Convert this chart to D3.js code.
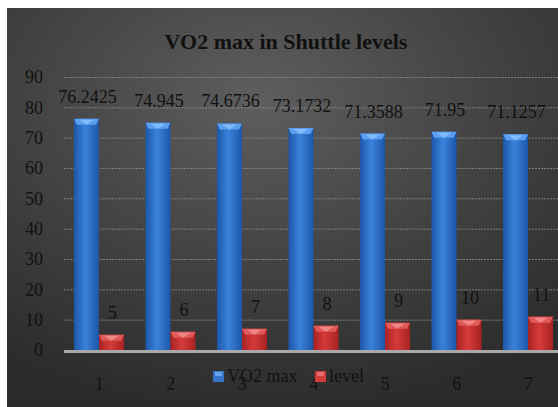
<!DOCTYPE html>
<html>
<head>
<meta charset="utf-8">
<script src="https://cdn.jsdelivr.net/npm/d3@7"></script>
<style>
  html, body { margin: 0; padding: 0; background: #fff; }
  svg { display: block; }
</style>
</head>
<body>
<svg id="chart" width="558" height="407"></svg>
<script>
// Shuttle test results: VO2 max reached and shuttle level per test
const categories = ["1", "2", "3", "4", "5", "6", "7"];
const vo2max = [76.2425, 74.945, 74.6736, 73.1732, 71.3588, 71.95, 71.1257];
const level = [5, 6, 7, 8, 9, 10, 11];
const seriesNames = ["VO2 max", "level"];
const yTicks = [0, 10, 20, 30, 40, 50, 60, 70, 80, 90];

const svg = d3.select("#chart");
const font = "'Liberation Serif', 'Times New Roman', serif";
const textColor = "#111";

const defs = svg.append("defs");

// Dark chart background with a soft highlight near the top
const bg = defs.append("radialGradient").attr("id", "bg")
  .attr("cx", "42%").attr("cy", "22%").attr("r", "75%");
bg.append("stop").attr("offset", "0%").attr("stop-color", "#5e5e5e");
bg.append("stop").attr("offset", "55%").attr("stop-color", "#414141");
bg.append("stop").attr("offset", "100%").attr("stop-color", "#2b2b2b");

function barGradient(id, edge, mid) {
  const g = defs.append("linearGradient").attr("id", id)
    .attr("x1", "0%").attr("x2", "100%").attr("y1", "0%").attr("y2", "0%");
  g.append("stop").attr("offset", "0%").attr("stop-color", edge);
  g.append("stop").attr("offset", "45%").attr("stop-color", mid);
  g.append("stop").attr("offset", "100%").attr("stop-color", edge);
}
barGradient("blueBar", "#1d56a8", "#3b82dc");
barGradient("redBar", "#a82222", "#d53a3a");

const palette = {
  "VO2 max": { fill: "url(#blueBar)", bevel: "#5b9ff0", peak: "#8cc3ff", key: "#3574c9" },
  "level": { fill: "url(#redBar)", bevel: "#e05a5a", peak: "#f29090", key: "#d33a3a" }
};

// Chart frame
svg.append("rect").attr("x", 7).attr("y", 8).attr("width", 600).attr("height", 420)
  .attr("fill", "url(#bg)");

// Title
svg.append("text").attr("x", 286).attr("y", 49).attr("text-anchor", "middle")
  .attr("font-family", font).attr("font-weight", "bold").attr("font-size", 22)
  .attr("fill", textColor).text("VO2 max in Shuttle levels");

// Scales
const x = d3.scaleBand().domain(categories).range([63.5, 564]).padding(0);
const x1 = d3.scaleBand().domain(seriesNames).range([10.5, 60.5]).padding(0);
const y = d3.scaleLinear().domain([0, 90]).range([350, 77]);

// Gridlines
svg.append("g").selectAll("line").data(yTicks.filter(d => d > 0)).join("line")
  .attr("x1", 64).attr("x2", 564)
  .attr("y1", d => y(d) + 0.5).attr("y2", d => y(d) + 0.5)
  .attr("stroke", "#8c8c8c").attr("stroke-width", 1)
  .attr("stroke-dasharray", "2,1").attr("opacity", 0.8);

// Y axis labels
const yAxis = d3.axisLeft(y).tickValues(yTicks).tickSize(0).tickPadding(0);
const yg = svg.append("g").attr("transform", "translate(43,0)").call(yAxis);
yg.select(".domain").remove();
yg.selectAll("text").attr("font-family", font).attr("font-size", 18)
  .attr("fill", textColor);

// Bars
const rows = categories.map((c, i) => ({ cat: c, values: [
  { key: "VO2 max", value: vo2max[i] },
  { key: "level", value: level[i] }
]}));

const groups = svg.append("g").selectAll("g").data(rows).join("g")
  .attr("transform", d => `translate(${x(d.cat)},0)`);

const bars = groups.selectAll("g.bar").data(d => d.values).join("g").attr("class", "bar");

bars.append("rect")
  .attr("x", d => x1(d.key)).attr("width", x1.bandwidth())
  .attr("y", d => y(d.value)).attr("height", d => y(0) - y(d.value))
  .attr("fill", d => palette[d.key].fill);

// bevelled top of each bar
bars.append("polygon")
  .attr("points", d => {
    const bx = x1(d.key), w = x1.bandwidth(), t = y(d.value);
    return [[bx, t], [bx + w, t], [bx + w - 3, t + 6], [bx + 3, t + 6]].map(p => p.join(",")).join(" ");
  })
  .attr("fill", d => palette[d.key].bevel);
bars.append("polygon")
  .attr("points", d => {
    const bx = x1(d.key), w = x1.bandwidth(), t = y(d.value);
    return [[bx + 5, t + 1], [bx + w - 5, t + 1], [bx + w / 2, t + 6]].map(p => p.join(",")).join(" ");
  })
  .attr("fill", d => palette[d.key].peak).attr("opacity", 0.8);

// Value labels
bars.append("text")
  .attr("x", d => x1(d.key) + x1.bandwidth() / 2 + 1)
  .attr("y", d => y(d.value) - 16)
  .attr("text-anchor", "middle")
  .attr("font-family", font).attr("font-size", 18).attr("fill", textColor)
  .text(d => d.value);

// Baseline
svg.append("line").attr("x1", 64).attr("x2", 564)
  .attr("y1", y(0) + 1.5).attr("y2", y(0) + 1.5)
  .attr("stroke", "#a9a9a9").attr("stroke-width", 3);

// X axis labels
const xAxis = d3.axisBottom(x).tickSize(0).tickPadding(0);
const xg = svg.append("g").attr("transform", `translate(0,${y(0)})`).call(xAxis);
xg.select(".domain").remove();
xg.selectAll("text").attr("dy", null).attr("y", 40)
  .attr("font-family", font).attr("font-size", 18).attr("fill", textColor);

// Legend
const legendPos = { "VO2 max": 213, "level": 315 };
const legend = svg.append("g").selectAll("g").data(seriesNames).join("g")
  .attr("transform", d => `translate(${legendPos[d]},371)`);
legend.append("rect").attr("width", 11).attr("height", 11)
  .attr("fill", d => palette[d].key);
legend.append("rect").attr("x", 2).attr("y", 1).attr("width", 7).attr("height", 4)
  .attr("fill", d => palette[d].peak).attr("opacity", 0.6);
legend.append("text").attr("x", 14).attr("y", 11)
  .attr("font-family", font).attr("font-size", 18).attr("fill", textColor)
  .text(d => d);
</script>
</body>
</html>
